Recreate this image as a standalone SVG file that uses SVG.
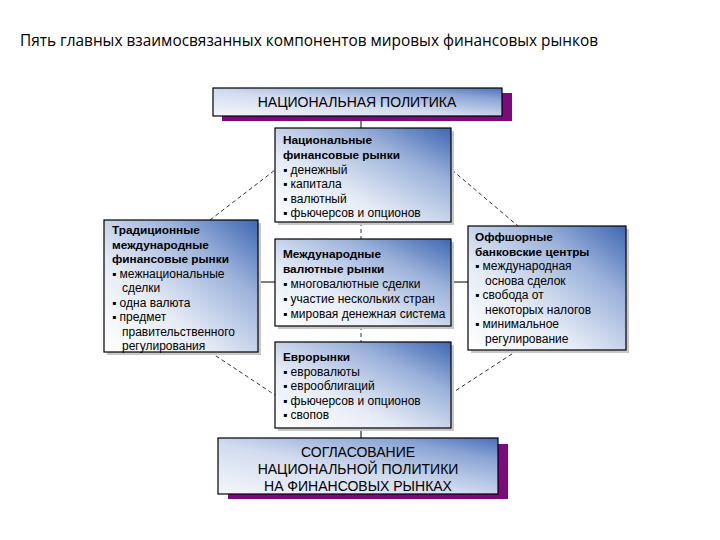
<svg xmlns="http://www.w3.org/2000/svg" width="720" height="540" viewBox="0 0 720 540">
<defs>
<linearGradient id="g" x1="0" y1="1" x2="1" y2="0">
<stop offset="0" stop-color="#ffffff"/>
<stop offset="0.35" stop-color="#e6ecf6"/>
<stop offset="0.7" stop-color="#9db3db"/>
<stop offset="1" stop-color="#3f67b2"/>
</linearGradient>
<linearGradient id="gw" x1="0" y1="1" x2="1" y2="0">
<stop offset="0" stop-color="#f4f6fb"/>
<stop offset="0.45" stop-color="#d2dcef"/>
<stop offset="0.8" stop-color="#8aa4d4"/>
<stop offset="1" stop-color="#4a70b8"/>
</linearGradient>
</defs>
<style>
.box{fill:url(#g);stroke:#000;stroke-width:1.2}
.wide{fill:url(#gw);stroke:#000;stroke-width:1.2}
.sh{fill:#7d0a7d}
.lsh{fill:#c8c8c8}
.t{font-family:"Liberation Sans",Arial,sans-serif;font-size:12px;fill:#000}
.b{font-weight:bold;font-size:11.8px}
.cap{font-family:"Liberation Sans",Arial,sans-serif;font-size:14px;fill:#000;text-anchor:middle}
.title{font-family:"Open Sans","Noto Sans",sans-serif;font-size:15.4px;fill:#000}
.solid{stroke:#000;stroke-width:1;fill:none}
.dash{stroke:#000;stroke-width:0.8;stroke-dasharray:4 3;fill:none}
</style>
<rect width="720" height="540" fill="#fff"/>
<text class="title" x="20" y="46">Пять главных взаимосвязанных компонентов мировых финансовых рынков</text>

<g id="connectors">
<line class="solid" x1="361" y1="116" x2="361" y2="128"/>
<line class="dash" x1="361" y1="222" x2="361" y2="239"/>
<line class="dash" x1="361" y1="326" x2="361" y2="342"/>
<line class="solid" x1="361" y1="428" x2="361" y2="438"/>
<line class="solid" x1="258" y1="282" x2="275" y2="282"/>
<line class="solid" x1="452" y1="282" x2="468" y2="282"/>
<line class="dash" x1="210" y1="220" x2="275" y2="170"/>
<line class="dash" x1="452" y1="170" x2="518" y2="226"/>
<line class="dash" x1="210" y1="352" x2="275" y2="395"/>
<line class="dash" x1="518" y1="350" x2="452" y2="393"/>
</g>

<g id="national-policy">
<rect class="sh" x="222" y="93" width="290" height="28"/>
<rect class="wide" x="213" y="88" width="289" height="28"/>
<text class="cap" x="357" y="107">НАЦИОНАЛЬНАЯ ПОЛИТИКА</text>
</g>

<g id="national-markets">
<rect class="lsh" x="278" y="131" width="176" height="94"/>
<rect class="box" x="275" y="128" width="176" height="94"/>
<text class="t" x="283" y="144"><tspan class="b">Национальные</tspan><tspan class="b" x="283" dy="15">финансовые рынки</tspan><tspan x="283" dy="14.5">▪ денежный</tspan><tspan x="283" dy="14.5">▪ капитала</tspan><tspan x="283" dy="14.5">▪ валютный</tspan><tspan x="283" dy="14.5">▪ фьючерсов и опционов</tspan></text>
</g>

<g id="traditional-markets">
<rect class="lsh" x="107" y="223" width="154" height="132"/>
<rect class="box" x="104" y="220" width="154" height="132"/>
<text class="t" x="112" y="234"><tspan class="b">Традиционные</tspan><tspan class="b" x="112" dy="14.5">международные</tspan><tspan class="b" x="112" dy="14.5">финансовые рынки</tspan><tspan x="112" dy="14.5">▪ межнациональные</tspan><tspan x="122" dy="14.5">сделки</tspan><tspan x="112" dy="14.5">▪ одна валюта</tspan><tspan x="112" dy="14.5">▪ предмет</tspan><tspan x="122" dy="14.5">правительственного</tspan><tspan x="122" dy="14.5">регулирования</tspan></text>
</g>

<g id="offshore-centers">
<rect class="lsh" x="471" y="229" width="158" height="124"/>
<rect class="box" x="468" y="226" width="158" height="124"/>
<text class="t" x="475" y="241"><tspan class="b">Оффшорные</tspan><tspan class="b" x="475" dy="14.5">банковские центры</tspan><tspan x="475" dy="14.5">▪ международная</tspan><tspan x="485" dy="14.5">основа сделок</tspan><tspan x="475" dy="14.5">▪ свобода от</tspan><tspan x="485" dy="14.5">некоторых налогов</tspan><tspan x="475" dy="14.5">▪ минимальное</tspan><tspan x="485" dy="14.5">регулирование</tspan></text>
</g>

<g id="currency-markets">
<rect class="lsh" x="278" y="242" width="176" height="87"/>
<rect class="box" x="275" y="239" width="176" height="87"/>
<text class="t" x="283" y="258"><tspan class="b">Международные</tspan><tspan class="b" x="283" dy="15">валютные рынки</tspan><tspan x="283" dy="15">▪ многовалютные сделки</tspan><tspan x="283" dy="15">▪ участие нескольких стран</tspan><tspan x="283" dy="15">▪ мировая денежная система</tspan></text>
</g>

<g id="euromarkets">
<rect class="lsh" x="278" y="345" width="176" height="86"/>
<rect class="box" x="275" y="342" width="176" height="86"/>
<text class="t" x="283" y="361"><tspan class="b">Еврорынки</tspan><tspan x="283" dy="14.5">▪ евровалюты</tspan><tspan x="283" dy="14.5">▪ еврооблигаций</tspan><tspan x="283" dy="14.5">▪ фьючерсов и опционов</tspan><tspan x="283" dy="14.5">▪ свопов</tspan></text>
</g>

<g id="coordination">
<rect class="sh" x="228" y="444" width="280" height="55"/>
<rect class="wide" x="218" y="438" width="280" height="56"/>
<text class="cap" x="358" y="457">СОГЛАСОВАНИЕ</text>
<text class="cap" x="358" y="474">НАЦИОНАЛЬНОЙ ПОЛИТИКИ</text>
<text class="cap" x="358" y="491">НА ФИНАНСОВЫХ РЫНКАХ</text>
</g>
</svg>
